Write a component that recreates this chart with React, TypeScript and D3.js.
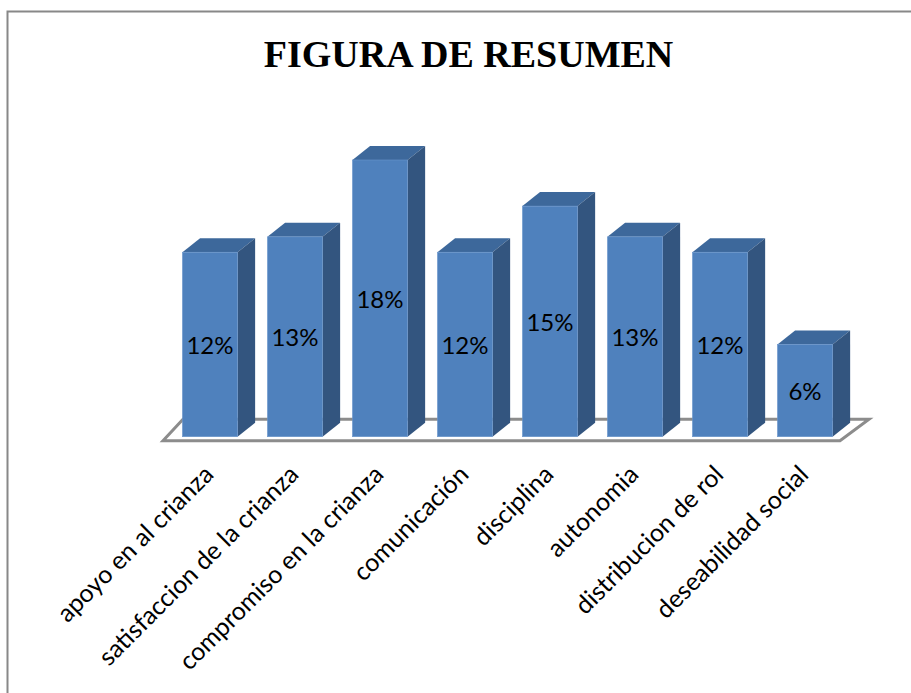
import React from "react";
import * as d3 from "d3";

const width = 911;
const height = 693;

const title = "FIGURA DE RESUMEN";
const categories = [
  "apoyo en al crianza",
  "satisfaccion de la crianza",
  "compromiso en la crianza",
  "comunicación",
  "disciplina",
  "autonomia",
  "distribucion de rol",
  "deseabilidad social",
];
const values = [12, 13, 18, 12, 15, 13, 12, 6];

// 3d depth of each bar
const depthX = 17.6;
const depthY = 14;

const App = () => {
  const x = d3
    .scaleBand<string>()
    .domain(categories)
    .range([168, 847])
    .paddingInner(0.352)
    .paddingOuter(0.17);

  const y = d3.scaleLinear().domain([0, 18]).range([436.7, 160]);

  const [r0, r1] = x.range();
  const base = y(0);
  const floor = [
    [r0 - 5, base + 4],
    [r1 - 7, base + 4],
    [r1 + 22, base - 17.5],
    [r0 + 15, base - 17.5],
  ];

  return (
    <svg width={width} height={height} style={{ position: "absolute", left: 0, top: 0 }}>
      <rect x={7.5} y={11.5} width={width + 20} height={height + 20} fill="#fff" stroke="#888" strokeWidth={2} />

      <text
        x={468.5}
        y={67}
        textAnchor="middle"
        fontFamily="'Liberation Serif', 'Times New Roman', serif"
        fontWeight="bold"
        fontSize={38}
        fill="#000"
      >
        {title}
      </text>

      {/* floor */}
      <polygon points={floor.map((p) => p.join(",")).join(" ")} fill="#fff" stroke="#8c8c8c" strokeWidth={3} />

      {categories.map((c, i) => {
        const bx = x(c)!;
        const bw = x.bandwidth();
        const top = y(values[i]);
        return (
          <g key={c}>
            <polygon
              points={`${bx},${top} ${bx + depthX},${top - depthY} ${bx + bw + depthX},${top - depthY} ${bx + bw},${top}`}
              fill="#3D689B"
            />
            <polygon
              points={`${bx + bw},${top} ${bx + bw + depthX},${top - depthY} ${bx + bw + depthX},${base - depthY} ${bx + bw},${base}`}
              fill="#33557F"
            />
            <rect x={bx} y={top} width={bw} height={base - top} fill="#4F81BD" stroke="#6a96cc" strokeWidth={0.6} />
            <text
              x={bx + bw / 2}
              y={(top + base) / 2}
              textAnchor="middle"
              dominantBaseline="central"
              fontFamily="Lato, 'Open Sans', sans-serif"
              fontSize={24}
              fill="#000"
            >
              {values[i]}%
            </text>
          </g>
        );
      })}

      {categories.map((c) => (
        <text
          key={"l" + c}
          transform={`translate(${x(c)! + x.bandwidth() / 2 + 5},${476}) rotate(-45)`}
          textAnchor="end"
          fontFamily="Lato, 'Open Sans', sans-serif"
          fontSize={25}
          fill="#000"
        >
          {c}
        </text>
      ))}
    </svg>
  );
};

export default App;
